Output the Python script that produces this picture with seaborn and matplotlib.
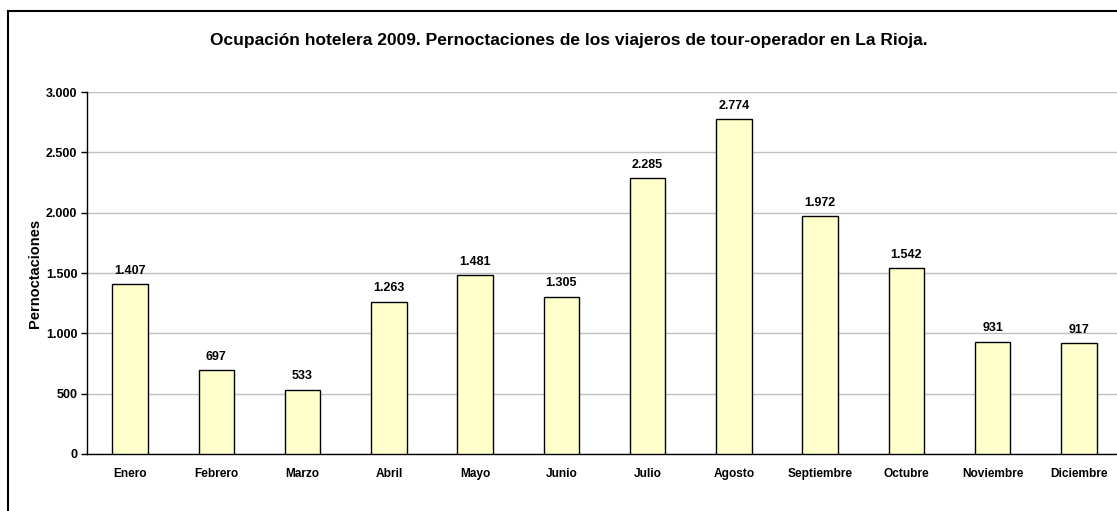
import matplotlib
matplotlib.use("Agg")
import matplotlib.pyplot as plt
import seaborn as sns
import pandas as pd
from matplotlib.patches import Rectangle
from matplotlib.ticker import FuncFormatter, MultipleLocator

# Data
meses = ['Enero', 'Febrero', 'Marzo', 'Abril', 'Mayo', 'Junio', 'Julio',
         'Agosto', 'Septiembre', 'Octubre', 'Noviembre', 'Diciembre']
pernoctaciones = [1407, 697, 533, 1263, 1481, 1305, 2285, 2774, 1972, 1542, 931, 917]

df = pd.DataFrame({'mes': meses, 'valor': pernoctaciones})

sns.set_style("white")
plt.rcParams['font.family'] = ['Liberation Sans', 'DejaVu Sans']
plt.rcParams['font.weight'] = 'bold'
plt.rcParams['text.color'] = 'black'
plt.rcParams['xtick.color'] = 'black'
plt.rcParams['ytick.color'] = 'black'
plt.rcParams['axes.labelcolor'] = 'black'


def miles(v, pos=None):
    return f"{int(v):,}".replace(",", ".")


fig = plt.figure(figsize=(11.17, 5.11), dpi=100)
ax = fig.add_axes([87 / 1117, 1 - 454 / 511, 1035 / 1117, 362 / 511])

sns.barplot(data=df, x='mes', y='valor', color='#FFFFCC', edgecolor='black',
            linewidth=1, width=0.41, saturation=1, ax=ax, zorder=3)

ax.set_xlim(-0.5, 11.5)
ax.set_ylim(0, 3000)
ax.yaxis.set_major_locator(MultipleLocator(500))
ax.yaxis.set_major_formatter(FuncFormatter(miles))
ax.grid(axis='y', color='#C0C0C0', linewidth=1, zorder=0)
ax.set_axisbelow(True)

for s in ['top', 'right']:
    ax.spines[s].set_visible(False)
for s in ['left', 'bottom']:
    ax.spines[s].set_color('black')
    ax.spines[s].set_linewidth(1)

# tick marks between categories
ax.set_xticks([i + 0.5 for i in range(-1, 12)], minor=True)
ax.tick_params(axis='x', which='major', length=0, pad=10, labelsize=8.6)
ax.tick_params(axis='x', which='minor', length=4, width=1, direction='out', color='black')
ax.tick_params(axis='y', length=4, width=1, direction='out', color='black', labelsize=9, pad=3)
ax.tick_params(bottom=True, left=True)
for lab in ax.get_xticklabels() + ax.get_yticklabels():
    lab.set_fontweight('bold')

for i, v in enumerate(pernoctaciones):
    ax.text(i, v + 60, miles(v), ha='center', va='bottom', fontsize=9, fontweight='bold')

ax.set_xlabel('')
ax.set_ylabel('Pernoctaciones', fontsize=10.5, fontweight='bold', labelpad=3)
fig.text(569 / 1117, 1 - 40 / 511,
         'Ocupación hotelera 2009. Pernoctaciones de los viajeros de tour-operador en La Rioja.',
         ha='center', va='center', fontsize=12.5, fontweight='bold')

# chart border
fig.patches.append(Rectangle((8 / 1117, -0.1), 1.2, 1.1 - 11 / 511,
                             transform=fig.transFigure, fill=False,
                             edgecolor='black', linewidth=1.5, clip_on=False))

fig.savefig('out.png', dpi=100)
